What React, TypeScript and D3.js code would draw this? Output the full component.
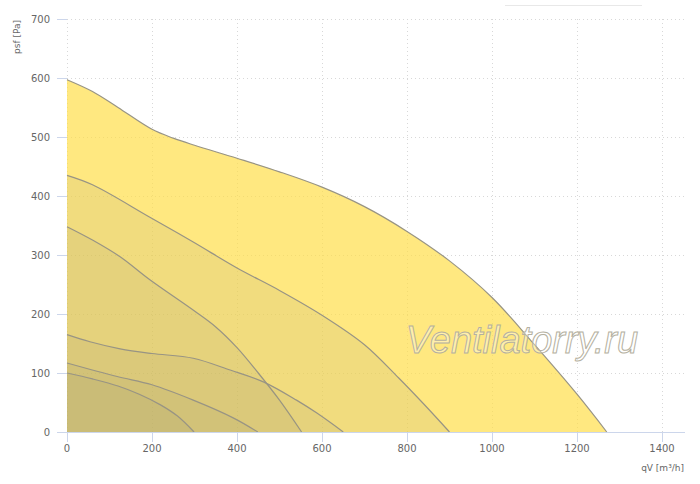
import React, { useEffect, useRef } from 'react'
import * as d3 from 'd3'

// fan curves (qV in m³/h, psf in Pa)
const curve1Q = [0, 60, 120, 200, 250, 300, 400, 500, 600, 700, 800, 900, 1000, 1100, 1200, 1270]
const curve1P = [597, 577, 550, 513, 498, 486, 464, 441, 415, 382, 340, 290, 228, 148, 64, 0]

const curve2Q = [0, 60, 195, 297, 400, 500, 600, 700, 780, 840, 900]
const curve2P = [435, 419, 364, 322, 278, 240, 198, 148, 92, 47, 0]

const curve3Q = [0, 61, 125, 195, 300, 350, 400, 450, 500, 552]
const curve3P = [348, 325, 297, 258, 205, 178, 143, 100, 54, 0]

const curve4Q = [0, 54, 125, 200, 297, 384, 462, 540, 588, 650]
const curve4P = [165, 153, 141, 133, 125, 105, 85, 54, 32, 0]

const curve5Q = [0, 118, 200, 297, 391, 449]
const curve5P = [117, 94, 80, 54, 24, 0]

const curve6Q = [0, 60, 120, 170, 220, 260, 299]
const curve6P = [100, 90, 78, 64, 46, 27, 0]

const xTicks = [0, 200, 400, 600, 800, 1000, 1200, 1400]
const yTicks = [0, 100, 200, 300, 400, 500, 600, 700]

const curves = [
  [curve1Q, curve1P],
  [curve2Q, curve2P],
  [curve3Q, curve3P],
  [curve4Q, curve4P],
  [curve5Q, curve5P],
  [curve6Q, curve6P],
]

export default function App() {
  const svgRef = useRef<SVGSVGElement>(null)

  useEffect(() => {
    if (!svgRef.current) return
    const svg = d3.select(svgRef.current)
    svg.selectAll('*').remove()

    const font = '"DejaVu Sans", Verdana, sans-serif'
    const left = 67
    const plotRight = 685
    const x = d3.scaleLinear().domain([0, 1400]).range([67, 662])
    const y = d3.scaleLinear().domain([0, 700]).range([432, 19])

    // grid
    const grid = svg.append('g')
    grid.selectAll('line.h')
      .data(yTicks)
      .join('line')
      .attr('x1', left)
      .attr('x2', plotRight)
      .attr('y1', (d) => y(d) + 0.5)
      .attr('y2', (d) => y(d) + 0.5)
      .attr('stroke', '#d8d8d8')
      .attr('stroke-dasharray', '1,3')
    grid.selectAll('line.v')
      .data(xTicks)
      .join('line')
      .attr('x1', (d) => x(d) + 0.5)
      .attr('x2', (d) => x(d) + 0.5)
      .attr('y1', y(700))
      .attr('y2', y(0))
      .attr('stroke', '#d8d8d8')
      .attr('stroke-dasharray', '1,3')

    const smooth = d3.curveCatmullRom.alpha(0.5)
    const area = d3.area<[number, number]>()
      .x((d) => x(d[0]))
      .y0(y(0))
      .y1((d) => y(d[1]))
      .curve(smooth)
    const line = d3.line<[number, number]>()
      .x((d) => x(d[0]))
      .y((d) => y(d[1]))
      .curve(smooth)

    curves.forEach(([qs, ps], i) => {
      const pts = qs.map((q, j) => [q, ps[j]] as [number, number])
      svg.append('path')
        .attr('d', area(pts))
        .attr('fill', i === 0 ? 'rgba(255,222,74,0.7)' : 'rgba(162,152,115,0.15)')
      svg.append('path')
        .attr('d', line(pts))
        .attr('fill', 'none')
        .attr('stroke', '#989484')
        .attr('stroke-width', 1.2)
    })

    // x axis
    svg.append('line')
      .attr('x1', left)
      .attr('x2', plotRight)
      .attr('y1', y(0) + 0.5)
      .attr('y2', y(0) + 0.5)
      .attr('stroke', '#ccd6eb')
    const xt = svg.append('g')
    xt.selectAll('line')
      .data(xTicks)
      .join('line')
      .attr('x1', (d) => x(d) + 0.5)
      .attr('x2', (d) => x(d) + 0.5)
      .attr('y1', y(0))
      .attr('y2', y(0) + 10)
      .attr('stroke', '#ccd6eb')
    xt.selectAll('text')
      .data(xTicks)
      .join('text')
      .attr('x', (d) => x(d))
      .attr('y', 452)
      .attr('text-anchor', 'middle')
      .style('font-family', font)
      .style('font-size', '10px')
      .style('fill', '#666')
      .text((d) => d)

    // y axis
    const yt = svg.append('g')
    yt.selectAll('line')
      .data(yTicks)
      .join('line')
      .attr('x1', left - 10)
      .attr('x2', left)
      .attr('y1', (d) => y(d) + 0.5)
      .attr('y2', (d) => y(d) + 0.5)
      .attr('stroke', '#ccd6eb')
    yt.selectAll('text')
      .data(yTicks)
      .join('text')
      .attr('x', 50)
      .attr('y', (d) => y(d) + 4)
      .attr('text-anchor', 'end')
      .style('font-family', font)
      .style('font-size', '10px')
      .style('fill', '#666')
      .text((d) => d)

    svg.append('text')
      .attr('transform', 'translate(20,20) rotate(-90)')
      .attr('text-anchor', 'end')
      .style('font-family', font)
      .style('font-size', '9px')
      .style('fill', '#666')
      .text('psf [Pa]')

    svg.append('text')
      .attr('x', 684)
      .attr('y', 471)
      .attr('text-anchor', 'end')
      .style('font-family', font)
      .style('font-size', '9px')
      .style('fill', '#666')
      .text('qV [m³/h]')

    // faint bar in the top right
    svg.append('line')
      .attr('x1', 505)
      .attr('x2', 642)
      .attr('y1', 5.5)
      .attr('y2', 5.5)
      .attr('stroke', '#e8e8e8')

    // watermark
    svg.append('text')
      .attr('x', 522)
      .attr('y', 353)
      .attr('text-anchor', 'middle')
      .style('font-family', '"Liberation Sans", Arial, sans-serif')
      .style('font-style', 'italic')
      .style('font-size', '38px')
      .style('fill', 'rgba(255,255,255,0.35)')
      .style('stroke', '#b4b0a0')
      .style('stroke-width', '1')
      .text('Ventilatorry.ru')
  }, [])

  return (
    <div style={{ position: 'absolute', left: 0, top: 0 }}>
      <svg ref={svgRef} width={700} height={484} style={{ display: 'block', background: '#fff' }} />
    </div>
  )
}
